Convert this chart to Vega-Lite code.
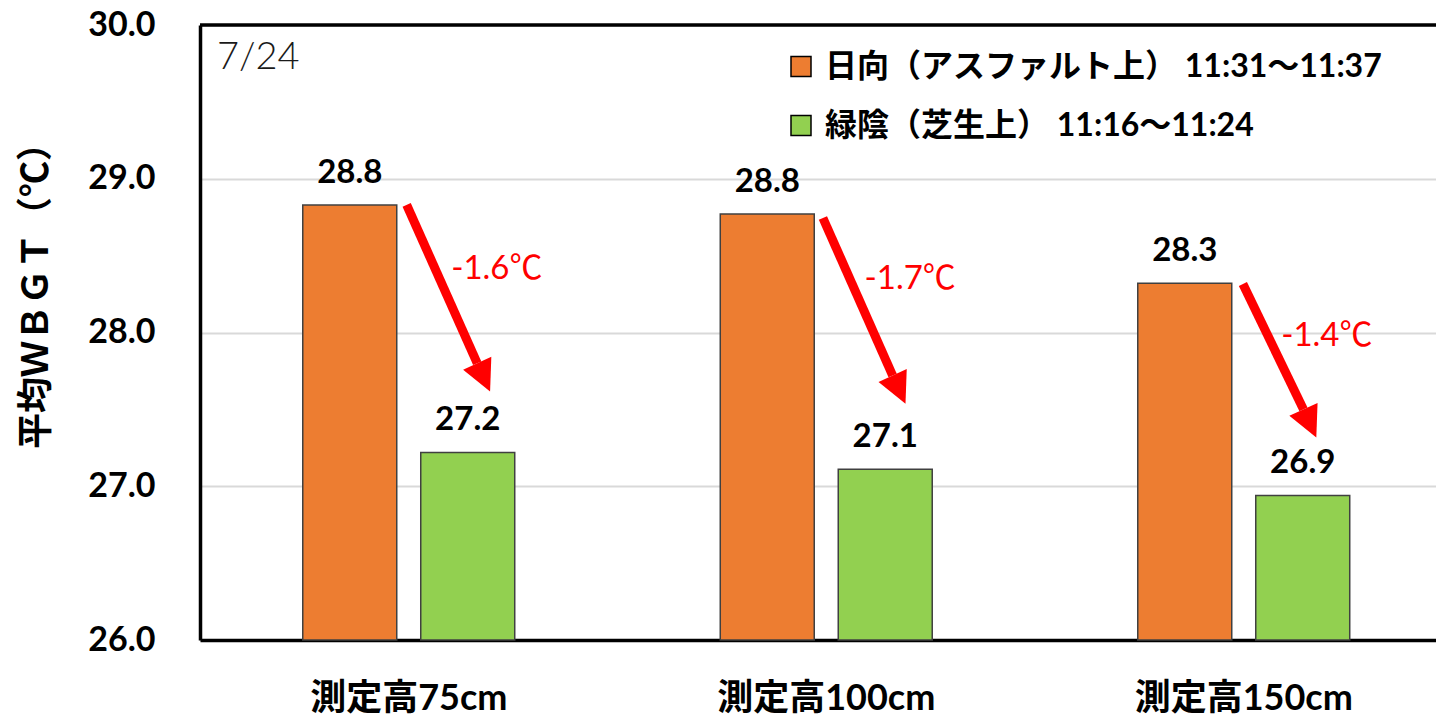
{
  "$schema": "https://vega.github.io/schema/vega-lite/v6.json",
  "autosize": {"type": "none"},
  "width": 1236,
  "height": 615,
  "padding": {"left": 200, "top": 25, "right": 0, "bottom": 76},
  "background": "white",
  "config": {"view": {"stroke": null}, "font": "Lato, 'Noto Sans CJK JP', sans-serif"},
  "datasets": {
    "bars": [
      {"cat": "測定高75cm", "series": "日向（アスファルト上） 11:31～11:37", "value": 28.83},
      {"cat": "測定高75cm", "series": "緑陰（芝生上） 11:16～11:24", "value": 27.22},
      {"cat": "測定高100cm", "series": "日向（アスファルト上） 11:31～11:37", "value": 28.77},
      {"cat": "測定高100cm", "series": "緑陰（芝生上） 11:16～11:24", "value": 27.11},
      {"cat": "測定高150cm", "series": "日向（アスファルト上） 11:31～11:37", "value": 28.32},
      {"cat": "測定高150cm", "series": "緑陰（芝生上） 11:16～11:24", "value": 26.94}
    ],
    "arrows": [
      {"cat": "測定高75cm", "pt": "start", "off": 0.495, "value": 28.83},
      {"cat": "測定高75cm", "pt": "end", "off": 0.664, "value": 27.80},
      {"cat": "測定高100cm", "pt": "start", "off": 0.492, "value": 28.745},
      {"cat": "測定高100cm", "pt": "end", "off": 0.659, "value": 27.72},
      {"cat": "測定高150cm", "pt": "start", "off": 0.498, "value": 28.315},
      {"cat": "測定高150cm", "pt": "end", "off": 0.643, "value": 27.50}
    ],
    "diffs": [
      {"cat": "測定高75cm", "label": "-1.6℃", "off": 0.711, "value": 28.41},
      {"cat": "測定高100cm", "label": "-1.7℃", "off": 0.701, "value": 28.35},
      {"cat": "測定高150cm", "label": "-1.4℃", "off": 0.699, "value": 27.98}
    ],
    "frame": [{"cat": "測定高75cm", "value": 30, "note": "7/24", "off": 0.0407, "ny": 29.714}]
  },
  "layer": [
    {
      "data": {"name": "bars"},
      "encoding": {
        "x": {
          "field": "cat", "type": "nominal", "sort": null,
          "scale": {"domain": ["測定高75cm", "測定高100cm", "測定高150cm"], "range": [0, 1252.5], "paddingInner": 0, "paddingOuter": 0},
          "axis": {
            "title": null, "domainColor": "black", "domainWidth": 3.5, "ticks": false, "tickSize": 0, "grid": false,
            "labelAngle": 0, "labelFontSize": 36, "labelFontWeight": "bold", "labelColor": "black", "labelLimit": 0,
            "labelBaseline": "alphabetic", "labelPadding": 69, "labelFont": "Lato, 'Noto Sans CJK JP'"
          }
        },
        "xOffset": {"field": "series", "type": "nominal", "sort": null, "scale": {"paddingInner": 0.2034, "paddingOuter": 0.871}},
        "y": {
          "field": "value", "type": "quantitative",
          "scale": {"domain": [26, 30], "nice": false, "zero": false},
          "axis": {
            "title": "平均ＷＢＧＴ（℃）", "values": [26, 27, 28, 29, 30], "format": ".1f", "grid": true,
            "ticks": false, "tickSize": 0, "domainColor": "black", "domainWidth": 3.5,
            "gridColor": "#D9D9D9", "gridWidth": 2,
            "labelFontSize": 34, "labelFontWeight": "bold", "labelColor": "black", "labelPadding": 45, "labelFont": "Lato",
            "titleFont": "Noto Sans CJK JP", "titleFontSize": 36, "titleFontWeight": "bold", "titleColor": "black",
            "titleX": -164, "titleY": 261.5, "titleBaseline": "middle", "titleAngle": 270, "titleAlign": "center"
          }
        }
      },
      "layer": [
        {
          "mark": {"type": "bar", "stroke": "#404040", "strokeWidth": 1.5},
          "encoding": {
            "y2": {"datum": 26},
            "color": {
              "field": "series", "type": "nominal", "sort": null,
              "scale": {"range": ["#ED7D31", "#92D050"]},
              "legend": {
                "title": null, "orient": "none", "legendX": 585, "legendY": 25.5, "direction": "vertical",
                "symbolType": "square", "symbolSize": 400, "symbolStrokeColor": "#000", "symbolStrokeWidth": 1.5,
                "labelFontSize": 32, "labelFontWeight": "bold", "labelColor": "black",
                "labelFont": "Lato, 'Noto Sans CJK JP'", "labelOffset": 8, "rowPadding": 27, "padding": 0, "labelLimit": 0
              }
            }
          }
        },
        {
          "mark": {"type": "text", "fontSize": 33, "fontWeight": "bold", "font": "Lato", "baseline": "alphabetic", "dy": -22, "color": "black"},
          "encoding": {"text": {"field": "value", "type": "quantitative", "format": ".1f"}}
        }
      ]
    },
    {
      "data": {"name": "arrows"},
      "encoding": {
        "x": {"field": "cat", "type": "nominal", "sort": null},
        "xOffset": {"field": "off", "type": "quantitative", "scale": {"domain": [0, 1], "range": [0, 417.5], "nice": false, "zero": false}},
        "y": {"field": "value", "type": "quantitative", "scale": {"domain": [26, 30], "nice": false, "zero": false}}
      },
      "layer": [
        {
          "mark": {"type": "line", "color": "#FF0000", "strokeWidth": 9, "strokeCap": "butt"},
          "encoding": {"detail": {"field": "cat", "type": "nominal"}}
        },
        {
          "transform": [{"filter": "datum.pt === 'end'"}],
          "mark": {"type": "point", "shape": "M-1,0L1,0L0,2Z", "size": 961, "angle": 335.5, "filled": true, "color": "#FF0000", "opacity": 1, "strokeWidth": 0}
        }
      ]
    },
    {
      "data": {"name": "diffs"},
      "mark": {"type": "text", "color": "#FF0000", "fontSize": 33, "font": "Lato, 'Noto Sans CJK JP'", "align": "center", "baseline": "middle"},
      "encoding": {
        "x": {"field": "cat", "type": "nominal", "sort": null},
        "xOffset": {"field": "off", "type": "quantitative", "scale": {"domain": [0, 1], "range": [0, 417.5], "nice": false, "zero": false}},
        "y": {"field": "value", "type": "quantitative", "scale": {"domain": [26, 30], "nice": false, "zero": false}},
        "text": {"field": "label"}
      }
    },
    {
      "data": {"name": "frame"},
      "mark": {"type": "rule", "color": "black", "strokeWidth": 3.5},
      "encoding": {
        "y": {"field": "value", "type": "quantitative", "scale": {"domain": [26, 30], "nice": false, "zero": false}}
      }
    },
    {
      "data": {"name": "frame"},
      "mark": {"type": "text", "fontSize": 38, "fontWeight": 300, "font": "Lato", "color": "#1a1a1a", "align": "left", "baseline": "alphabetic"},
      "encoding": {
        "x": {"field": "cat", "type": "nominal", "sort": null},
        "xOffset": {"field": "off", "type": "quantitative", "scale": {"domain": [0, 1], "range": [0, 417.5], "nice": false, "zero": false}},
        "y": {"field": "ny", "type": "quantitative", "scale": {"domain": [26, 30], "nice": false, "zero": false}},
        "text": {"field": "note"}
      }
    }
  ],
  "resolve": {"scale": {"xOffset": "independent"}}
}
